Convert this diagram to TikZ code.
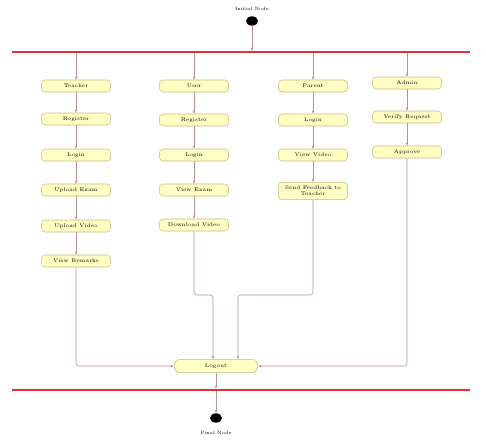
\documentclass[tikz,border=0pt]{standalone}
\usetikzlibrary{arrows.meta,shapes.geometric}
\definecolor{nodefill}{HTML}{FFFFC4}
\definecolor{nodeborder}{HTML}{C8B878}
\definecolor{linec}{HTML}{B89090}
\definecolor{barred}{HTML}{E0303A}
\begin{document}
\begin{tikzpicture}[x=0.75pt,y=-0.75pt,
  act/.style={draw=nodeborder, fill=nodefill, rounded corners=3pt, minimum width=52pt, minimum height=9pt, font=\fontsize{4}{4.6}\selectfont, inner sep=1pt, align=center},
  flow/.style={draw=linec, line width=0.4pt, rounded corners=2pt, -{Stealth[length=2.5pt,width=2pt]}},
  bar/.style={fill=barred, inner sep=0pt, minimum width=343pt, minimum height=1.6pt},
  dot/.style={ellipse, fill=black, inner sep=0pt, minimum width=9pt, minimum height=7pt},
  lbl/.style={font=\fontsize{3.5}{4}\selectfont, inner sep=0pt}]
\useasboundingbox (0,0) rectangle (486,440);
% start
\node[dot] (start) at (252,21) {};
\node[lbl] (startl) at (252,9) {Initial Node};
\node[bar] (topbar) at (241,52) {};
\draw[flow] (start.south) -- (start.south |- topbar.north);
% column 1
\node[act] (c1a) at (76,86) {Teacher};
\node[act] (c1b) at (76,119) {Register};
\node[act] (c1c) at (76,155) {Login};
\node[act] (c1d) at (76,190) {Upload Exam};
\node[act] (c1e) at (76,226) {Upload Video};
\node[act] (c1f) at (76,261) {View Remarks};
% column 2
\node[act] (c2a) at (194,86) {User};
\node[act] (c2b) at (194,120) {Register};
\node[act] (c2c) at (194,155) {Login};
\node[act] (c2d) at (194,190) {View Exam};
\node[act] (c2e) at (194,225) {Download Video};
% column 3
\node[act] (c3a) at (313,86) {Parent};
\node[act] (c3b) at (313,120) {Login};
\node[act] (c3c) at (313,155) {View Video};
\node[act, minimum height=13pt] (c3d) at (313,191) {Send Feedback to\\Teacher};
% column 4
\node[act] (c4a) at (407,83) {Admin};
\node[act] (c4b) at (407,117) {Verify Request};
\node[act] (c4c) at (407,152) {Approve};
% merge
\node[act, minimum width=63pt, minimum height=10pt, rounded corners=5pt] (merge) at (216,366) {Logout};
\coordinate (j2) at (213,295);
\coordinate (j3) at (238,295);
% bottom
\node[bar] (botbar) at (241,390) {};
\node[dot] (end) at (216,418) {};
\node[lbl] (endl) at (216,433) {Final Node};
% flows from top bar
\foreach \n in {c1a,c2a,c3a,c4a} \draw[flow] (\n |- topbar.south) -- (\n);
% column flows
\draw[flow] (c1a) -- (c1b);
\draw[flow] (c1b) -- (c1c);
\draw[flow] (c1c) -- (c1d);
\draw[flow] (c1d) -- (c1e);
\draw[flow] (c1e) -- (c1f);
\draw[flow] (c2a) -- (c2b);
\draw[flow] (c2b) -- (c2c);
\draw[flow] (c2c) -- (c2d);
\draw[flow] (c2d) -- (c2e);
\draw[flow] (c3a) -- (c3b);
\draw[flow] (c3b) -- (c3c);
\draw[flow] (c3c) -- (c3d);
\draw[flow] (c4a) -- (c4b);
\draw[flow] (c4b) -- (c4c);
% into merge
\draw[flow] (c1f) |- (merge);
\draw[flow] (c4c) |- (merge);
\draw[flow] (c2e) |- (j2) -- (merge.north -| j2);
\draw[flow] (c3d) |- (j3) -- (merge.north -| j3);
% to end
\draw[flow] (merge) -- (merge |- botbar.north);
\draw[flow] (merge |- botbar.south) -- (end);
\end{tikzpicture}
\end{document}
